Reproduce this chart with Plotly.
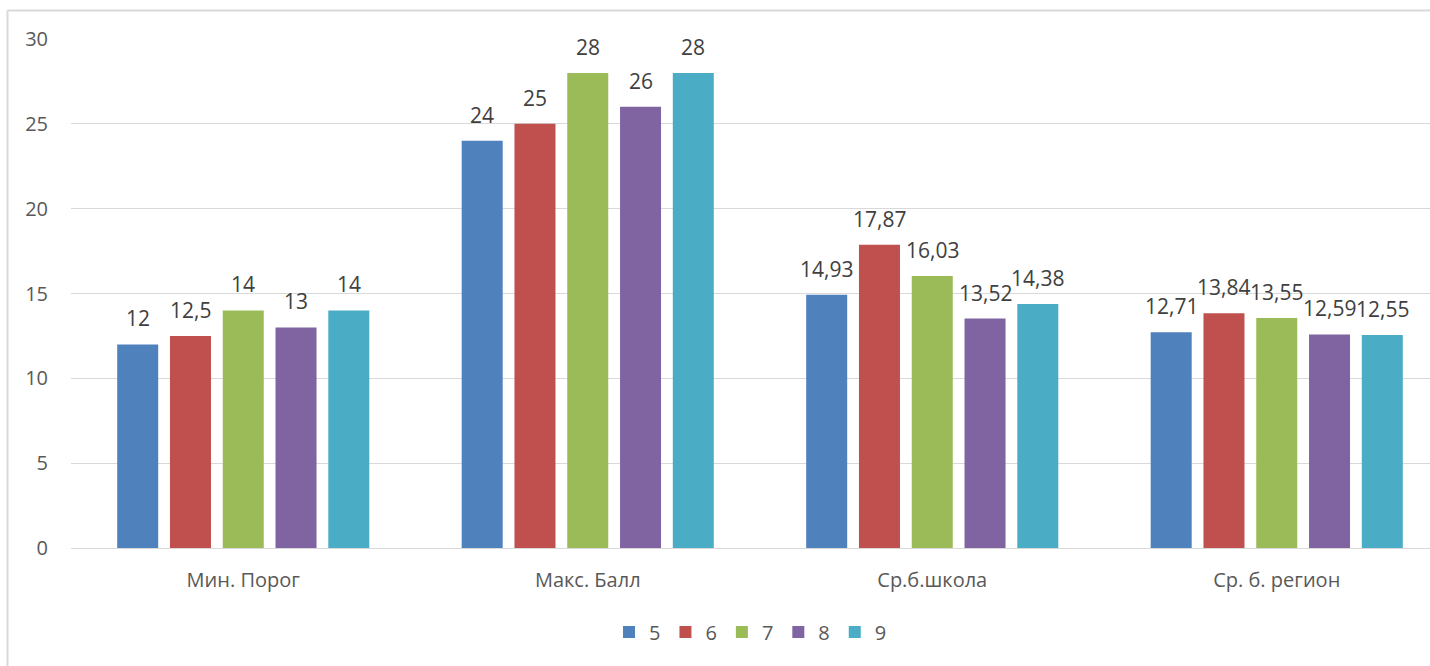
import plotly.graph_objects as go

categories = ["Мин. Порог", "Макс. Балл", "Ср.б.школа", "Ср. б. регион"]
series_names = ["5", "6", "7", "8", "9"]
values_5 = [12, 24, 14.93, 12.71]
values_6 = [12.5, 25, 17.87, 13.84]
values_7 = [14, 28, 16.03, 13.55]
values_8 = [13, 26, 13.52, 12.59]
values_9 = [14, 28, 14.38, 12.55]
series_values = [values_5, values_6, values_7, values_8, values_9]
colors = ["#4F81BD", "#C0504D", "#9BBB59", "#8064A2", "#4BACC6"]

def fmt(v):
    s = ("%.2f" % v).rstrip("0").rstrip(".")
    return s.replace(".", ",")

BARGAP = 0.234
BARGROUPGAP = 0.223
n = len(series_names)
slot = (1 - BARGAP) / n

fig = go.Figure()
annotations = []
for j, (name, vals, col) in enumerate(zip(series_names, series_values, colors)):
    fig.add_trace(go.Bar(
        x=categories, y=vals, name=name,
        marker=dict(color=col, line=dict(width=0)),
        hoverinfo="x+y+name",
    ))
    for i, v in enumerate(vals):
        annotations.append(dict(
            x=i - (1 - BARGAP) / 2 + slot * (j + 0.5), y=v,
            xref="x", yref="y", text=fmt(v), showarrow=False,
            xanchor="center", yanchor="bottom", yshift=10,
            font=dict(size=21, color="#404040", family="Open Sans"),
        ))

W, H = 1430, 666
L, R, T, B = 71, 0, 39, 118
pw = W - L - R
ph = H - T - B
cat_px = 344.5
span = pw / cat_px

fig.update_layout(
    width=W, height=H,
    margin=dict(l=L, r=R, t=T, b=B, pad=0),
    paper_bgcolor="white", plot_bgcolor="white",
    font=dict(family="Open Sans", size=20, color="#595959"),
    barmode="group", bargap=BARGAP, bargroupgap=BARGROUPGAP,
    showlegend=True,
    legend=dict(orientation="h", x=0.5, xanchor="center", y=(548 - 632) / ph,
                yanchor="middle", font=dict(size=20, color="#595959"),
                itemwidth=30, traceorder="normal"),
    xaxis=dict(range=[-0.5, -0.5 + span], showgrid=False, showline=False,
               ticks="outside", ticklen=14, tickcolor="rgba(0,0,0,0)",
               tickfont=dict(size=20, color="#595959"), fixedrange=True),
    yaxis=dict(range=[0, 30], dtick=5, showgrid=True, gridcolor="#D9D9D9",
               gridwidth=1, zeroline=True, zerolinecolor="#D9D9D9", zerolinewidth=1,
               showline=False, ticks="outside", ticklen=18, tickcolor="rgba(0,0,0,0)",
               tickfont=dict(size=20, color="#595959")),
    annotations=annotations,
)

# chart-area border: left and top edges only (the rest lies outside the view)
border_x = (7.5 - L) / pw
border_top = (548 - 10.5) / ph
fig.add_shape(type="line", xref="paper", yref="paper",
              x0=border_x, x1=border_x, y0=-0.5, y1=border_top,
              line=dict(color="#D9D9D9", width=2), layer="below")
fig.add_shape(type="line", xref="paper", yref="paper",
              x0=border_x, x1=1.05, y0=border_top, y1=border_top,
              line=dict(color="#D9D9D9", width=2), layer="below")

fig.write_html("out.html", config={"displayModeBar": False},
               post_script="document.body.style.margin='0';document.body.style.overflow='hidden';")
